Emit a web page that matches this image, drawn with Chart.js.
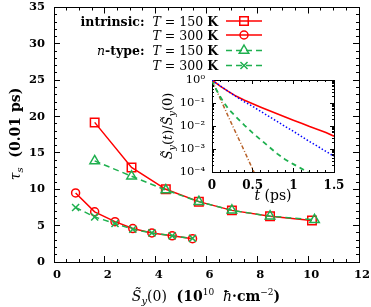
<!DOCTYPE html>
<html>
<head>
<meta charset="utf-8">
<script src="https://cdn.jsdelivr.net/npm/chart.js"></script>
</head>
<body style="margin:0">
<canvas id="mainChart" width="371" height="307"></canvas>
<canvas id="insetChart" width="200" height="145" style="position:absolute;left:150px;top:68px"></canvas>
<script>
// main panel ticks
const xTicks = [0, 2, 4, 6, 8, 10, 12];
const yTicks = [0, 5, 10, 15, 20, 25, 30, 35];

// tau_s (0.01 ps) vs S_y(0) (10^10 hbar cm^-2)
const intr150X = [1.6, 3.05, 4.4, 5.7, 7.0, 8.5, 10.15];
const intr150Y = [19.2, 13.0, 10.0, 8.3, 7.1, 6.3, 5.7];
const intr300X = [0.85, 1.6, 2.4, 3.1, 3.85, 4.65, 5.45];
const intr300Y = [9.5, 6.9, 5.55, 4.6, 4.0, 3.6, 3.2];
const ntype150X = [1.6, 3.05, 4.4, 5.7, 7.0, 8.5, 10.25];
const ntype150Y = [13.9, 11.8, 9.9, 8.3, 7.1, 6.3, 5.8];
const ntype300X = [0.85, 1.6, 2.4, 3.1, 3.85, 4.65, 5.45];
const ntype300Y = [7.5, 6.2, 5.3, 4.5, 4.0, 3.6, 3.25];

// inset: S_y(t)/S_y(0) vs t (ps)
const insetXTicks = [0, 0.5, 1, 1.5];
const insetXLabels = ['0', '0.5', '1', '1.5'];
const insetYTicks = [1e-4, 1e-3, 1e-2, 1e-1, 1];
const insetYLabels = ['10\u207B\u2074', '10\u207B\u00B3', '10\u207B\u00B2', '10\u207B\u00B9', '10\u2070'];

const tRed = [0, 0.1, 0.2, 0.3, 0.4, 0.5, 0.6, 0.7, 0.8, 0.9, 1.0, 1.1, 1.2, 1.3, 1.4, 1.5];
const sRed = [1, 0.54, 0.32, 0.195, 0.132, 0.093, 0.066, 0.047, 0.034, 0.0245, 0.0178, 0.0132, 0.0095, 0.0071, 0.0052, 0.0036];
const tBlue = [0, 0.1, 0.2, 0.3, 0.4, 0.5, 0.6, 0.7, 0.8, 0.9, 1.0, 1.1, 1.2, 1.3, 1.4, 1.5];
const sBlue = [1, 0.56, 0.32, 0.186, 0.112, 0.071, 0.043, 0.026, 0.0158, 0.0095, 0.0059, 0.0035, 0.0021, 0.0013, 0.00079, 0.00048];
const tGreen = [0, 0.05, 0.1, 0.15, 0.2, 0.3, 0.4, 0.5, 0.6, 0.7, 0.8, 0.9, 1.0, 1.1, 1.2];
const sGreen = [1, 0.4, 0.19, 0.1, 0.056, 0.024, 0.0107, 0.005, 0.0025, 0.00126, 0.00063, 0.00035, 0.00022, 0.00014, 0.000089];
const tBrown = [0, 0.1, 0.2, 0.3, 0.4, 0.5, 0.55];
const sBrown = [1, 0.158, 0.026, 0.0045, 0.00079, 0.00013, 0.000056];

const SERIF = '"DejaVu Serif", serif';
const RED = '#ff0000';
const GREEN = '#1fb04f';
const BLUE = '#0000ff';
const BROWN = '#b8622a';

// minor tick positions (frame decoration only)
const mainXMinor = [];
for (let i = 0; i <= 24; i++) mainXMinor.push(i * 0.5);
const mainYMinor = [];
for (let i = 0; i <= 35; i++) mainYMinor.push(i);
const insetXMinor = [];
for (let i = 0; i <= 15; i++) insetXMinor.push(i / 10);
const insetYMinor = [];
for (let d = -4; d < 0; d++) {
    for (let m = 1; m <= 9; m++) insetYMinor.push(m * Math.pow(10, d));
}
insetYMinor.push(1);

function pts(xs, ys) {
    return xs.map((x, i) => ({ x: x, y: ys[i] }));
}

function f(style, size) {
    return (style ? style + ' ' : '') + size + 'px ' + SERIF;
}

function noPad(s) {
    s.paddingTop = 0; s.paddingBottom = 0; s.paddingLeft = 0; s.paddingRight = 0;
}

// draws mixed-font text pieces one after another
function drawRich(ctx, parts, x, y, align) {
    let w = 0;
    parts.forEach(p => { ctx.font = p.f; w += ctx.measureText(p.t).width; });
    let cx = x;
    if (align === 'center') cx = x - w / 2;
    if (align === 'right') cx = x - w;
    ctx.textAlign = 'left';
    ctx.textBaseline = 'alphabetic';
    parts.forEach(p => {
        ctx.font = p.f;
        ctx.fillText(p.t, cx, y + (p.dy || 0));
        cx += ctx.measureText(p.t).width;
    });
}

function drawMarker(ctx, style, x, y, r, color) {
    ctx.save();
    ctx.strokeStyle = color;
    ctx.lineWidth = 1.5;
    ctx.setLineDash([]);
    ctx.beginPath();
    if (style === 'rect') {
        const s = r * Math.SQRT1_2;
        ctx.rect(x - s, y - s, 2 * s, 2 * s);
    } else if (style === 'circle') {
        ctx.arc(x, y, r, 0, Math.PI * 2);
    } else if (style === 'triangle') {
        ctx.moveTo(x, y - r);
        ctx.lineTo(x + r * 0.866, y + r * 0.5);
        ctx.lineTo(x - r * 0.866, y + r * 0.5);
        ctx.closePath();
    } else {
        const s = r * Math.SQRT1_2;
        ctx.moveTo(x - s, y - s); ctx.lineTo(x + s, y + s);
        ctx.moveTo(x + s, y - s); ctx.lineTo(x - s, y + s);
    }
    ctx.stroke();
    ctx.restore();
}

// zero-size axis that only draws inward tick marks (and maybe the frame edge)
function tickAxis(pos, type, min, max, values, len, weight, border) {
    const horiz = pos === 'top' || pos === 'bottom';
    return {
        axis: horiz ? 'x' : 'y',
        type: type, position: pos, min: min, max: max, weight: weight,
        afterBuildTicks: s => { s.ticks = values.map(v => ({ value: v })); },
        afterFit: s => { if (horiz) s.height = 0; else s.width = 0; noPad(s); },
        grid: { display: true, drawOnChartArea: false, drawTicks: true, tickLength: -len, color: '#000', tickColor: '#000', lineWidth: 1, tickWidth: 1 },
        border: { display: border, color: '#000', width: 1 },
        ticks: { display: false }
    };
}

// axis with labels, major ticks and the frame edge
function labelAxis(pos, type, min, max, values, len, size, weight, padding, extra) {
    const horiz = pos === 'top' || pos === 'bottom';
    const ax = {
        axis: horiz ? 'x' : 'y',
        type: type, position: pos, min: min, max: max, weight: 2,
        afterBuildTicks: s => { s.ticks = values.map(v => ({ value: v })); },
        grid: { display: true, drawOnChartArea: false, drawTicks: true, tickLength: -len, color: '#000', tickColor: '#000', lineWidth: 1, tickWidth: 1 },
        border: { display: true, color: '#000', width: 1 },
        ticks: { color: '#000', font: { family: SERIF, size: size, weight: weight }, padding: padding, maxRotation: 0, autoSkip: false }
    };
    return Object.assign(ax, extra);
}

const legendRows = [
    { y: 21, color: RED, dash: [], marker: 'rect', r: 6,
      text: [{ t: 'intrinsic:', f: f('bold', 12.5) }, { t: '  ', f: f('', 12.5) }, { t: 'T', f: f('italic', 12.5) }, { t: ' = 150 ', f: f('', 12.5) }, { t: 'K', f: f('bold', 12.5) }] },
    { y: 35, color: RED, dash: [], marker: 'circle', r: 4,
      text: [{ t: 'T', f: f('italic', 12.5) }, { t: ' = 300 ', f: f('', 12.5) }, { t: 'K', f: f('bold', 12.5) }] },
    { y: 50.5, color: GREEN, dash: [6, 4], marker: 'triangle', r: 5.5,
      text: [{ t: 'n', f: f('italic', 12.5) }, { t: '-type:', f: f('bold', 12.5) }, { t: '  ', f: f('', 12.5) }, { t: 'T', f: f('italic', 12.5) }, { t: ' = 150 ', f: f('', 12.5) }, { t: 'K', f: f('bold', 12.5) }] },
    { y: 65.5, color: GREEN, dash: [6, 4], marker: 'crossRot', r: 5,
      text: [{ t: 'T', f: f('italic', 12.5) }, { t: ' = 300 ', f: f('', 12.5) }, { t: 'K', f: f('bold', 12.5) }] }
];

const mainDecor = {
    id: 'mainDecor',
    afterDraw(chart) {
        const ctx = chart.ctx;
        ctx.save();

        // legend
        ctx.fillStyle = '#000';
        legendRows.forEach(row => {
            drawRich(ctx, row.text, 218, row.y + 4.5, 'right');
            ctx.strokeStyle = row.color;
            ctx.lineWidth = 1.5;
            ctx.setLineDash(row.dash);
            ctx.beginPath();
            ctx.moveTo(226, row.y); ctx.lineTo(262, row.y);
            ctx.stroke();
            drawMarker(ctx, row.marker, 244, row.y, row.r, row.color);
        });

        // axis titles
        ctx.fillStyle = '#000';
        drawRich(ctx, [
            { t: 'S\u0303', f: f('italic', 14) },
            { t: 'y', f: f('italic', 10), dy: 3 },
            { t: '(0)', f: f('', 14) },
            { t: '  (10', f: f('bold', 14) },
            { t: '10', f: f('', 9), dy: -6 },
            { t: '  ', f: f('', 14) },
            { t: '\u0127', f: f('italic', 14) },
            { t: '\u00B7cm', f: f('bold', 14) },
            { t: '\u22122', f: f('', 9), dy: -6 },
            { t: ')', f: f('bold', 14) }
        ], 206, 301, 'center');

        ctx.save();
        ctx.translate(20, 134);
        ctx.rotate(-Math.PI / 2);
        drawRich(ctx, [
            { t: '\u03C4', f: f('italic', 14) },
            { t: 's', f: f('italic', 10), dy: 3 },
            { t: '  (0.01 ps)', f: f('bold', 14) }
        ], 0, 0, 'center');
        ctx.restore();
        ctx.restore();
    }
};

function lineSet(xs, ys, color, dash, marker, r) {
    return {
        data: pts(xs, ys),
        xAxisID: 'x',
        yAxisID: 'y',
        borderColor: color,
        borderWidth: 1.5,
        borderDash: dash,
        pointStyle: marker,
        pointRadius: r,
        pointBorderWidth: 1.5,
        pointBorderColor: color,
        pointBackgroundColor: 'rgba(0,0,0,0)',
        tension: 0
    };
}

// green sets first so they end up on top
new Chart(document.getElementById('mainChart'), {
    type: 'line',
    data: {
        datasets: [
            lineSet(ntype150X, ntype150Y, GREEN, [6, 4], 'triangle', 5.5),
            lineSet(ntype300X, ntype300Y, GREEN, [6, 4], 'crossRot', 5),
            lineSet(intr150X, intr150Y, RED, [], 'rect', 6),
            lineSet(intr300X, intr300Y, RED, [], 'circle', 4)
        ]
    },
    options: {
        responsive: false,
        animation: false,
        layout: { padding: { top: 6, right: 12, left: 0, bottom: 0 } },
        plugins: { legend: { display: false }, tooltip: { enabled: false } },
        scales: {
            x: labelAxis('bottom', 'linear', 0, 12, xTicks, 6, 11.5, 'bold', 12, {
                afterFit: s => { s.height = 45; noPad(s); },
                ticks: { color: '#000', font: { family: SERIF, size: 11.5, weight: 'bold' }, padding: 12, labelOffset: 3, maxRotation: 0, autoSkip: false }
            }),
            xMinor: tickAxis('bottom', 'linear', 0, 12, mainXMinor, 3, 0, false),
            xTop: tickAxis('top', 'linear', 0, 12, xTicks, 6, 0, true),
            xTopMinor: tickAxis('top', 'linear', 0, 12, mainXMinor, 3, 1, false),
            y: labelAxis('left', 'linear', 0, 35, yTicks, 6, 11.5, 'bold', 15, {
                afterFit: s => { s.width = 54; noPad(s); }
            }),
            yMinor: tickAxis('left', 'linear', 0, 35, mainYMinor, 3, 0, false),
            yRight: tickAxis('right', 'linear', 0, 35, yTicks, 6, 0, true),
            yRightMinor: tickAxis('right', 'linear', 0, 35, mainYMinor, 3, 1, false)
        }
    },
    plugins: [mainDecor]
});

// inset
const insetDecor = {
    id: 'insetDecor',
    afterDraw(chart) {
        const ctx = chart.ctx;
        ctx.save();
        ctx.fillStyle = '#000';
        drawRich(ctx, [
            { t: 't', f: f('italic', 14) },
            { t: ' (ps)', f: f('', 14) }
        ], (chart.chartArea.left + chart.chartArea.right) / 2, 132, 'center');

        ctx.translate(22, 58);
        ctx.rotate(-Math.PI / 2);
        drawRich(ctx, [
            { t: 'S\u0303', f: f('italic', 13) },
            { t: 'y', f: f('italic', 9.5), dy: 3 },
            { t: '(', f: f('', 13) },
            { t: 't', f: f('italic', 13) },
            { t: ')/', f: f('', 13) },
            { t: 'S\u0303', f: f('italic', 13) },
            { t: 'y', f: f('italic', 9.5), dy: 3 },
            { t: '(0)', f: f('', 13) }
        ], 0, 0, 'center');
        ctx.restore();
    }
};

function curveSet(xs, ys, color, dash, width) {
    return {
        data: pts(xs, ys),
        xAxisID: 'x',
        yAxisID: 'y',
        borderColor: color,
        borderWidth: width,
        borderDash: dash,
        pointRadius: 0,
        tension: 0
    };
}

new Chart(document.getElementById('insetChart'), {
    type: 'line',
    data: {
        datasets: [
            curveSet(tBlue, sBlue, BLUE, [1.5, 2], 1.5),
            curveSet(tRed, sRed, RED, [], 1.6),
            curveSet(tGreen, sGreen, GREEN, [5, 4], 1.8),
            curveSet(tBrown, sBrown, BROWN, [4, 2, 1, 2], 1.5)
        ]
    },
    options: {
        responsive: false,
        animation: false,
        layout: { padding: { top: 12, right: 16, left: 0, bottom: 0 } },
        plugins: { legend: { display: false }, tooltip: { enabled: false } },
        scales: {
            x: labelAxis('bottom', 'linear', 0, 1.5, insetXTicks, 4, 12, 'bold', 11, {
                afterFit: s => { s.height = 41; noPad(s); },
                ticks: {
                    color: '#000', font: { family: SERIF, size: 12, weight: 'bold' }, padding: 11, maxRotation: 0, autoSkip: false,
                    callback: (v, i) => insetXLabels[i]
                }
            }),
            xMinor: tickAxis('bottom', 'linear', 0, 1.5, insetXMinor, 2, 0, false),
            xTop: tickAxis('top', 'linear', 0, 1.5, insetXTicks, 4, 0, true),
            xTopMinor: tickAxis('top', 'linear', 0, 1.5, insetXMinor, 2, 1, false),
            y: labelAxis('left', 'logarithmic', 1e-4, 1, insetYTicks, 4, 11.5, 'normal', 11, {
                afterFit: s => { s.width = 62; noPad(s); },
                ticks: {
                    color: '#000', font: { family: SERIF, size: 11.5 }, padding: 11, autoSkip: false,
                    callback: (v, i) => insetYLabels[i]
                }
            }),
            yMinor: tickAxis('left', 'logarithmic', 1e-4, 1, insetYMinor, 2, 0, false),
            yRight: tickAxis('right', 'logarithmic', 1e-4, 1, insetYTicks, 4, 0, true),
            yRightMinor: tickAxis('right', 'logarithmic', 1e-4, 1, insetYMinor, 2, 1, false)
        }
    },
    plugins: [insetDecor]
});
</script>
</body>
</html>
